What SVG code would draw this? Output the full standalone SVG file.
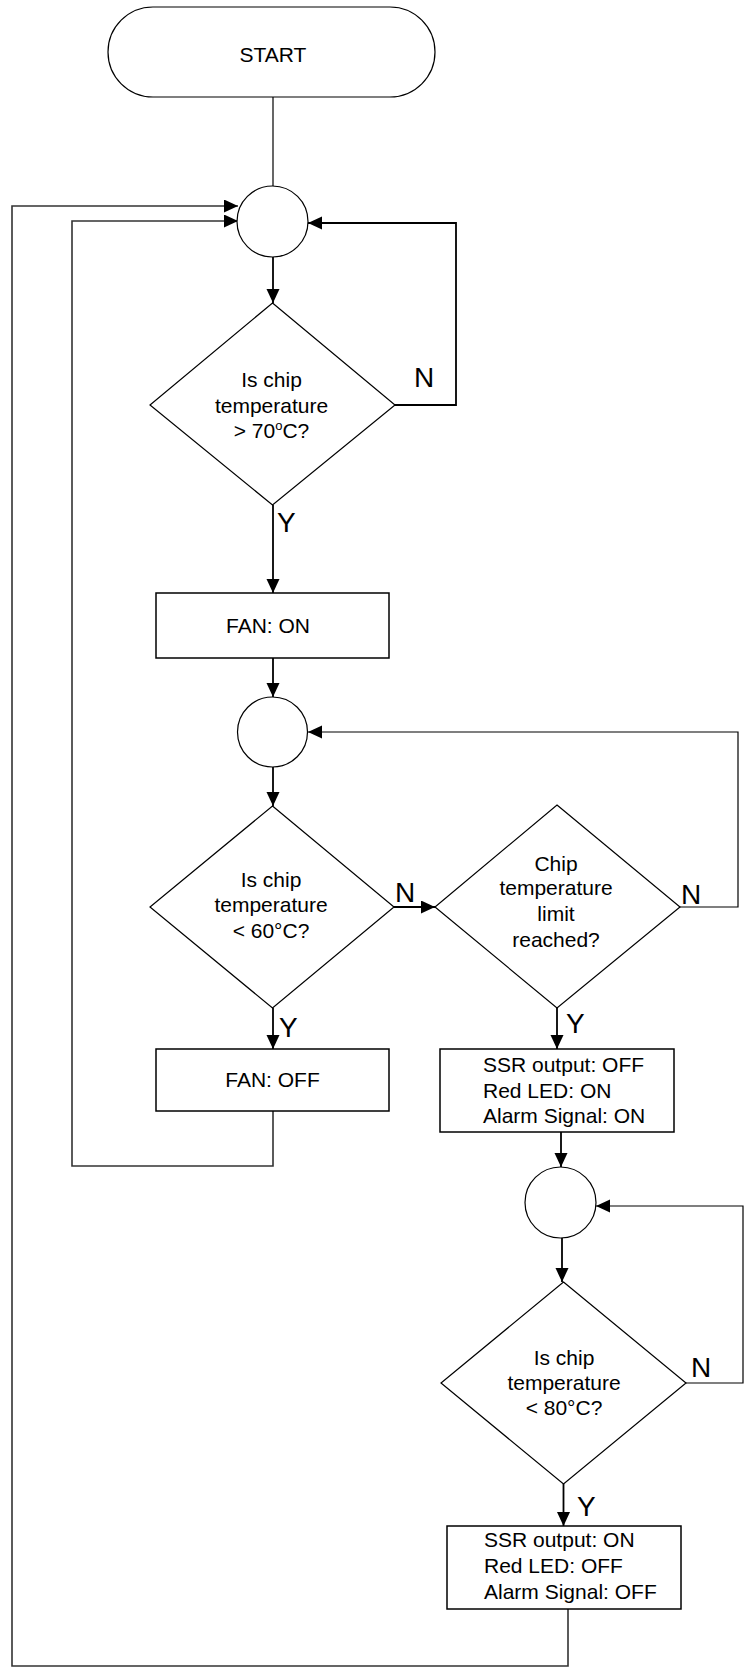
<svg xmlns="http://www.w3.org/2000/svg" width="747" height="1674" viewBox="0 0 747 1674">
<style>
.shape{fill:#fff;stroke:#000;stroke-width:1.2}
.box{fill:#fff;stroke:#000;stroke-width:1.5}
.t{font-family:"Liberation Sans",Arial,sans-serif;font-size:21px;fill:#000}
.c{text-anchor:middle}
.lbl{font-family:"Liberation Sans",Arial,sans-serif;font-size:28px;fill:#000}
.ln{fill:none;stroke:#000;stroke-width:1.8}
.thin{fill:none;stroke:#000;stroke-width:1.2}
.gr{fill:none;stroke:#333;stroke-width:1.6}
</style>
<defs>
<marker id="ah" markerUnits="userSpaceOnUse" markerWidth="15" markerHeight="14" refX="14" refY="6.5" orient="auto">
<path d="M0,0 L14,6.5 L0,13 z" fill="#000"/>
</marker>
</defs>
<rect width="747" height="1674" fill="#fff"/>
<g id="connectors">
<line class="thin" x1="273" y1="97" x2="273" y2="186"/>
<line class="ln" x1="273" y1="257" x2="273" y2="303" marker-end="url(#ah)"/>
<polyline class="ln" points="395,405 456,405 456,223 308,223" marker-end="url(#ah)"/>
<line class="ln" x1="273" y1="505" x2="273" y2="593" marker-end="url(#ah)"/>
<line class="ln" x1="273" y1="658" x2="273" y2="697" marker-end="url(#ah)"/>
<line class="ln" x1="273" y1="767" x2="273" y2="806" marker-end="url(#ah)"/>
<line class="ln" x1="394" y1="907" x2="435" y2="907" marker-end="url(#ah)"/>
<polyline class="thin" points="680,907 738,907 738,732 308,732" marker-end="url(#ah)"/>
<line class="ln" x1="273" y1="1008" x2="273" y2="1049" marker-end="url(#ah)"/>
<line class="ln" x1="557" y1="1008" x2="557" y2="1049" marker-end="url(#ah)"/>
<polyline class="gr" points="273,1111 273,1166 72,1166 72,221 238,221" marker-end="url(#ah)"/>
<line class="ln" x1="561" y1="1132" x2="561" y2="1167" marker-end="url(#ah)"/>
<line class="ln" x1="562" y1="1238" x2="562" y2="1282" marker-end="url(#ah)"/>
<polyline class="thin" points="686,1383 743,1383 743,1206 596,1206" marker-end="url(#ah)"/>
<line class="ln" x1="563.5" y1="1484" x2="563.5" y2="1526" marker-end="url(#ah)"/>
<polyline class="gr" points="568,1609 568,1666 12,1666 12,206 238,206" marker-end="url(#ah)"/>
<text class="lbl" x="414" y="387">N</text>
<text class="lbl" x="277" y="532">Y</text>
<text class="lbl" x="395" y="902">N</text>
<text class="lbl" x="681" y="904">N</text>
<text class="lbl" x="279" y="1037">Y</text>
<text class="lbl" x="566" y="1033">Y</text>
<text class="lbl" x="691" y="1377">N</text>
<text class="lbl" x="577" y="1516">Y</text>
</g>
<g id="start">
<rect class="shape" x="108" y="7" width="327" height="90" rx="45" ry="45"/>
<text class="t c" x="273" y="62">START</text>
</g>
<g id="junction1">
<circle class="shape" cx="272.5" cy="221.5" r="35.5"/>
</g>
<g id="decision1">
<polygon class="shape" points="272.5,303 395,405 272.5,505 150,405"/>
<text class="t c" x="271.5" y="387">Is chip</text>
<text class="t c" x="271.5" y="413">temperature</text>
<text class="t c" x="271.5" y="438">&gt; 70<tspan font-size="13" dy="-8">o</tspan><tspan dy="8">C?</tspan></text>
</g>
<g id="fan-on">
<rect class="box" x="156" y="593" width="233" height="65"/>
<text class="t c" x="268" y="633">FAN: ON</text>
</g>
<g id="junction2">
<circle class="shape" cx="272.5" cy="732" r="35"/>
</g>
<g id="decision2">
<polygon class="shape" points="272.5,806 394,907 272.5,1008 150,907"/>
<text class="t c" x="271" y="887">Is chip</text>
<text class="t c" x="271" y="912">temperature</text>
<text class="t c" x="271" y="938">&lt; 60°C?</text>
</g>
<g id="decision3">
<polygon class="shape" points="557,805 680,907 557,1008 435,907"/>
<text class="t c" x="556" y="871">Chip</text>
<text class="t c" x="556" y="895">temperature</text>
<text class="t c" x="556" y="921">limit</text>
<text class="t c" x="556" y="947">reached?</text>
</g>
<g id="fan-off">
<rect class="box" x="156" y="1049" width="233" height="62"/>
<text class="t c" x="272.5" y="1087">FAN: OFF</text>
</g>
<g id="alarm-on">
<rect class="box" x="440" y="1049" width="234" height="83"/>
<text class="t" x="483" y="1072">SSR output: OFF</text>
<text class="t" x="483" y="1098">Red LED: ON</text>
<text class="t" x="483" y="1123">Alarm Signal: ON</text>
</g>
<g id="junction3">
<circle class="shape" cx="560.5" cy="1202.5" r="35.5"/>
</g>
<g id="decision4">
<polygon class="shape" points="563.5,1282 686,1383 563.5,1484 441,1383"/>
<text class="t c" x="564" y="1365">Is chip</text>
<text class="t c" x="564" y="1390">temperature</text>
<text class="t c" x="564" y="1415">&lt; 80°C?</text>
</g>
<g id="alarm-off">
<rect class="box" x="447" y="1526" width="234" height="83"/>
<text class="t" x="484" y="1547">SSR output: ON</text>
<text class="t" x="484" y="1573">Red LED: OFF</text>
<text class="t" x="484" y="1599">Alarm Signal: OFF</text>
</g>
</svg>
